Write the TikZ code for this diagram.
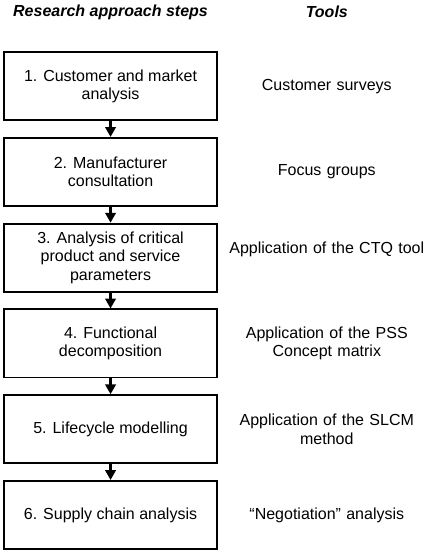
\documentclass[tikz,border=0pt]{standalone}
\usepackage{fontspec}
\setmainfont{Liberation Sans}
\usetikzlibrary{arrows.meta,positioning,calc}
\definecolor{flowink}{HTML}{000000}
\tikzset{
  stp/.style={draw=flowink, line width=1.4pt, align=center, minimum width=162pt, minimum height=52pt, inner sep=2pt},
  tool/.style={align=center, text width=150pt, inner sep=0pt},
  hd/.style={font=\fontsize{12.2}{14}\selectfont\bfseries\itshape, inner sep=0pt},
  arr/.style={-{Triangle[length=7.5pt, width=8pt]}, line width=1.7pt, color=flowink},
}
\begin{document}
\begin{tikzpicture}[node distance=12pt and 8pt, font=\fontsize{12.2}{13.9}\selectfont]
    \node[stp] (s1) {1. Customer and market\\analysis};
    \node[stp, below=of s1] (s2) {2. Manufacturer\\consultation};
    \node[stp, below=of s2] (s3) {3. Analysis of critical\\product and service\\parameters};
    \node[stp, below=of s3] (s4) {4. Functional\\decomposition};
    \node[stp, below=of s4] (s5) {5. Lifecycle modelling};
    \node[stp, below=of s5] (s6) {6. Supply chain analysis};
    \node[tool, right=of s1] (t1) {Customer surveys};
    \node[tool, right=of s2] (t2) {Focus groups};
    \node[tool, right=of s3, yshift=6pt] (t3) {Application of the CTQ tool};
    \node[tool, right=of s4] (t4) {Application of the PSS\\Concept matrix};
    \node[tool, right=of s5] (t5) {Application of the SLCM\\method};
    \node[tool, right=of s6] (t6) {``Negotiation'' analysis};
    \node[hd, above=24pt of s1] (h1) {Research approach steps};
    \node[hd] at (t1 |- h1) (h2) {Tools};
    \draw[arr] (s1) -- (s2); \draw[arr] (s2) -- (s3); \draw[arr] (s3) -- (s4);
    \draw[arr] (s4) -- (s5); \draw[arr] (s5) -- (s6);
    \useasboundingbox ($(s1.north west)+(-2.6pt,39pt)$) rectangle ++(320.25pt,-412.5pt);
  \end{tikzpicture}
\end{document}
